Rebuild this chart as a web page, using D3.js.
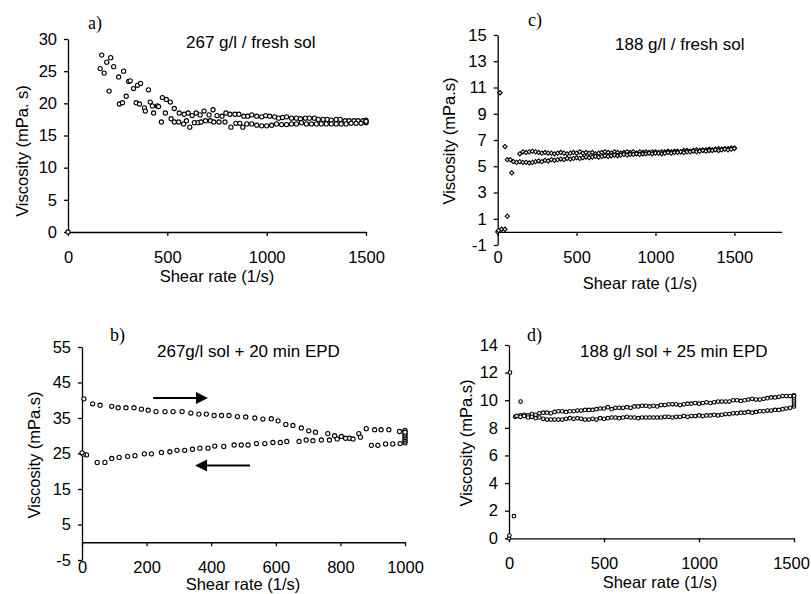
<!DOCTYPE html>
<html>
<head>
<meta charset="utf-8">
<script src="https://cdnjs.cloudflare.com/ajax/libs/d3/7.8.5/d3.min.js"></script>
<style>
  body { margin: 0; background: #fff; }
  svg text { font-family: "Liberation Sans", Arial, sans-serif; fill: #000; }
  .axis path, .axis line { stroke: #000; stroke-width: 1.3; }
  .axis text { font-size: 16.5px; }
  .plabel { font-family: "Liberation Serif", "Times New Roman", serif; font-size: 18px; }
</style>
</head>
<body>
<svg id="chart" width="811" height="594"></svg>
<script>
// panel a) 267 g/l fresh sol : [shear rate, viscosity]
const ptsAUp = [[170,27.5],[195,26.4],[215,27.1],[230,25.7],[255,24.1],[280,25.0],[305,23.4],[330,22.3],[350,22.8],[365,23.1],
  [405,22.1],[425,19.6],[450,19.6],[475,20.9],[495,20.6],[515,20.2],[535,19.2],[560,18.5],[585,18.3],[605,18.5],
  [625,18.1],[645,18.5],[665,18.2],[685,18.8],[710,18.2],[730,19.0],[750,18.1],[775,18.0],[795,18.5],[815,18.3],
  [840,18.3],[860,18.3],[885,18.0],[905,18.0],[925,18.2],[950,18.0],[975,17.9],[995,18.1],[1015,18.0],[1040,17.9],
  [1060,17.7],[1080,17.8],[1100,17.9],[1125,17.7],[1150,17.7],[1170,17.6],[1195,17.7],[1215,17.7],[1240,17.7],[1260,17.5],
  [1285,17.5],[1305,17.5],[1325,17.4],[1350,17.5],[1370,17.5],[1395,17.3],[1415,17.3],[1440,17.3],[1460,17.3],[1485,17.3],[1500,17.4]]
const ptsADown = [[0,0],[162,25.4],[182,24.7],[207,21.9],[259,19.9],[274,20.1],[293,21.1],[313,23.5],[343,20.1],[360,19.9],
  [385,19.3],[389,18.8],[414,20.2],[431,18.5],[456,19.5],[470,17.1],[490,18.5],[519,17.6],[535,17.1],[557,17.1],
  [582,16.8],[596,17.3],[613,16.3],[636,17.0],[655,17.0],[670,17.1],[692,17.3],[717,17.3],[734,17.1],[760,17.1],
  [790,17.1],[820,16.3],[845,16.9],[865,16.9],[880,16.3],[900,16.8],[925,16.8],[950,16.6],[975,16.5],[1000,16.5],
  [1025,16.6],[1050,16.8],[1075,16.7],[1100,16.7],[1125,16.8],[1150,16.8],[1175,17.0],[1200,16.8],[1225,16.8],[1250,16.8],
  [1275,16.8],[1300,16.8],[1325,16.8],[1350,16.8],[1375,16.8],[1400,16.8],[1425,16.9],[1450,16.9],[1475,16.9],[1500,17.0],
  [1500,17.1],[1500,17.2]]

// panel b) 267 g/l sol + 20 min EPD
const ptsBUp = [[6,40.4],[33,39.0],[56,38.6],[92,38.3],[112,37.9],[136,37.9],[161,37.9],[184,37.5],[205,37.2],[229,36.8],
  [257,36.8],[282,36.8],[310,36.8],[337,36.4],[362,36.1],[385,36.1],[409,35.7],[432,35.7],[455,35.7],[481,35.4],
  [507,35.3],[535,35.0],[560,34.7],[586,34.8],[607,34.2],[631,33.2],[653,32.9],[679,32.2],[702,31.4],[723,31.0],
  [761,30.6],[782,30.0],[803,29.8],[828,29.3],[857,30.6],[880,32.0],[906,31.7],[926,31.7],[950,31.7],[983,31.2],[1000,31.5]]
const ptsBDown = [[1000,28.0],[1000,28.5],[1000,29.0],[1000,29.5],[1000,30.0],[1000,30.5],[1000,31.0],[985,27.8],[962,27.7],[940,27.7],
  [916,27.3],[896,27.3],[862,29.6],[839,29.1],[816,29.3],[790,29.1],[766,28.8],[741,28.8],[715,28.6],[694,28.8],
  [672,28.4],[634,28.4],[614,28.1],[591,28.1],[566,27.8],[540,27.8],[514,27.4],[493,27.4],[471,27.4],[439,27.0],
  [411,27.1],[390,26.5],[365,26.5],[342,26.2],[318,25.9],[294,25.9],[272,25.5],[246,25.3],[215,24.9],[193,24.9],
  [164,24.4],[141,24.2],[115,23.9],[92,23.6],[71,22.5],[47,22.5],[14,24.6],[4,24.8],[0,25.2]]
const arrowsB = [{ from: [220, 40.6], to: [390, 40.6] }, { from: [520, 21.6], to: [350, 21.6] }]

// panel c) 188 g/l fresh sol
const ptsCStart = [[0,0],[5,0.1],[15,10.6],[25,0.2],[46,0.2],[46,6.5],[61,1.2],[61,5.5],[89,4.5]]
const ptsCUp = [[140,5.95],[160,6.1],[180,6.05],[200,6.1],[220,6.15],[240,6.1],[260,6.05],[280,6.0],[300,6.05],[320,6.0],
  [340,6.0],[360,5.95],[380,6.0],[400,6.05],[420,6.0],[440,5.95],[460,6.0],[480,6.05],[500,6.0],[520,6.1],
  [540,6.0],[560,6.05],[580,6.0],[600,6.05],[620,5.95],[640,6.0],[660,6.05],[680,6.1],[700,6.05],[720,6.0],
  [740,6.1],[760,6.05],[780,6.0],[800,6.05],[820,6.1],[840,6.05],[860,6.1],[880,6.0],[900,6.1],[920,6.05],
  [940,6.1],[960,6.05],[980,6.1],[1000,6.1],[1020,6.05],[1040,6.1],[1060,6.1],[1080,6.15],[1100,6.1],[1120,6.15],
  [1140,6.15],[1160,6.1],[1180,6.2],[1200,6.2],[1220,6.15],[1240,6.2],[1260,6.25],[1280,6.2],[1300,6.25],[1320,6.25],
  [1340,6.3],[1360,6.25],[1380,6.3],[1400,6.35],[1420,6.3],[1440,6.35],[1460,6.35],[1480,6.4],[1500,6.4]]
const ptsCDown = [[80,5.5],[100,5.35],[120,5.3],[140,5.35],[160,5.3],[180,5.3],[200,5.25],[220,5.3],[240,5.35],[260,5.4],
  [280,5.35],[300,5.45],[320,5.4],[340,5.5],[360,5.45],[380,5.5],[400,5.55],[420,5.5],[440,5.6],[460,5.55],
  [480,5.6],[500,5.65],[520,5.6],[540,5.65],[560,5.7],[580,5.65],[600,5.7],[620,5.75],[640,5.7],[660,5.75],
  [680,5.8],[700,5.75],[720,5.8],[740,5.85],[760,5.8],[780,5.85],[800,5.9],[820,5.85],[840,5.9],[860,5.9],
  [880,5.95],[900,5.9],[920,5.95],[940,5.95],[960,6.0],[980,5.95],[1000,6.0],[1020,6.0],[1040,5.95],[1060,6.0],
  [1080,6.05],[1100,6.0],[1120,6.05],[1140,6.05],[1160,6.1],[1180,6.05],[1200,6.1],[1220,6.1],[1240,6.15],[1260,6.1],
  [1280,6.15],[1300,6.2],[1320,6.15],[1340,6.2],[1360,6.2],[1380,6.25],[1400,6.2],[1420,6.25],[1440,6.3],[1460,6.25],
  [1480,6.3],[1500,6.35]]

// panel d) 188 g/l sol + 25 min EPD
const ptsDStart = [[0,0],[2,0.2],[5,12.0],[26,1.6],[61,9.9],[32,8.8]]
const ptsDUp = [[40,8.85],[60,8.9],[80,8.95],[100,8.9],[120,9.0],[140,8.95],[160,9.05],[180,9.1],[200,9.1],[220,9.05],
  [240,9.15],[260,9.2],[280,9.2],[300,9.15],[320,9.2],[340,9.2],[360,9.25],[380,9.25],[400,9.3],[420,9.3],
  [440,9.3],[460,9.35],[480,9.4],[500,9.4],[520,9.5],[540,9.35],[560,9.45],[580,9.45],[600,9.45],[620,9.5],
  [640,9.45],[660,9.55],[680,9.55],[700,9.6],[720,9.6],[740,9.55],[760,9.6],[780,9.55],[800,9.65],[820,9.65],
  [840,9.7],[860,9.7],[880,9.7],[900,9.65],[920,9.7],[940,9.75],[960,9.75],[980,9.8],[1000,9.75],[1020,9.8],
  [1040,9.85],[1060,9.8],[1080,9.85],[1100,9.9],[1120,9.9],[1140,9.9],[1160,9.9],[1180,10.0],[1200,10.0],[1220,9.95],
  [1240,10.0],[1260,10.05],[1280,10.1],[1300,10.05],[1320,10.05],[1340,10.1],[1360,10.15],[1380,10.2],[1400,10.2],[1420,10.25],
  [1440,10.3],[1460,10.3],[1480,10.3],[1500,10.35]]
const ptsDDown = [[40,8.85],[60,8.8],[80,8.85],[100,8.75],[120,8.8],[140,8.7],[160,8.75],[180,8.65],[200,8.6],[220,8.6],
  [240,8.6],[260,8.6],[280,8.6],[300,8.65],[320,8.7],[340,8.65],[360,8.7],[380,8.65],[400,8.6],[420,8.6],
  [440,8.65],[460,8.6],[480,8.7],[500,8.65],[520,8.7],[540,8.75],[560,8.75],[580,8.7],[600,8.75],[620,8.8],
  [640,8.75],[660,8.75],[680,8.7],[700,8.75],[720,8.75],[740,8.75],[760,8.75],[780,8.75],[800,8.75],[820,8.8],
  [840,8.8],[860,8.75],[880,8.8],[900,8.8],[920,8.85],[940,8.8],[960,8.85],[980,8.85],[1000,8.9],[1020,8.85],
  [1040,8.9],[1060,8.9],[1080,8.95],[1100,8.9],[1120,8.95],[1140,9.0],[1160,9.0],[1180,9.05],[1200,9.05],[1220,9.1],
  [1240,9.1],[1260,9.15],[1280,9.1],[1300,9.15],[1320,9.2],[1340,9.2],[1360,9.25],[1380,9.25],[1400,9.3],[1420,9.3],
  [1440,9.35],[1460,9.4],[1480,9.45],[1500,9.55],[1500,9.7],[1500,9.85],[1500,10.0],[1500,10.15],[1500,10.3]]

// tick values
const xTicksA = [0, 500, 1000, 1500], yTicksA = [0, 5, 10, 15, 20, 25, 30]
const xTicksB = [0, 200, 400, 600, 800, 1000], yTicksB = [-5, 5, 15, 25, 35, 45, 55]
const xTicksC = [0, 500, 1000, 1500], yTicksC = [-1, 1, 3, 5, 7, 9, 11, 13, 15]
const xTicksD = [0, 500, 1000, 1500], yTicksD = [0, 2, 4, 6, 8, 10, 12, 14]

const svg = d3.select("#chart")
const plain = d => String(d)   // "-5", "1500" as printed in the figure

const panels = [
  { tag: "a)", title: "267 g/l / fresh sol", ylab: "Viscosity (mPa. s)",
    xDom: [0, 1500], xRng: [68, 366], yDom: [0, 30], yRng: [232, 39],
    xTicks: xTicksA, yTicks: yTicksA, series: [ptsAUp, ptsADown], r: 2.1,
    tagPos: [88, 29], titlePos: [186, 48], ylabPos: [22, 151], xlabPos: [217, 282] },
  { tag: "c)", title: "188 g/l / fresh sol", ylab: "Viscosity (mPa.s)",
    xDom: [0, 1800], xRng: [497.7, 781.7], yDom: [-1, 15], yRng: [245, 35],
    xTicks: xTicksC, yTicks: yTicksC, series: [ptsCStart, ptsCUp, ptsCDown], diamond: true,
    tagPos: [528, 26], titlePos: [615, 50], ylabPos: [449, 141], xlabPos: [640, 289] },
  { tag: "b)", title: "267g/l sol + 20 min EPD", ylab: "Viscosity (mPa.s)",
    xDom: [0, 1000], xRng: [82, 405], yDom: [-5, 55], yRng: [560, 347],
    xTicks: xTicksB, yTicks: yTicksB, series: [ptsBUp, ptsBDown], r: 2.1, arrows: arrowsB,
    tagPos: [110, 341], titlePos: [157, 357], ylabPos: [34, 455], xlabPos: [243, 590] },
  { tag: "d)", title: "188 g/l sol + 25 min EPD", ylab: "Viscosity (mPa.s)",
    xDom: [0, 1500], xRng: [509, 794], yDom: [0, 14], yRng: [538.3, 345],
    xTicks: xTicksD, yTicks: yTicksD, series: [ptsDStart, ptsDUp, ptsDDown], r: 1.8, lastTickShift: -3,
    tagPos: [527, 341], titlePos: [580, 357], ylabPos: [466, 443], xlabPos: [660, 588] }
]

function drawPanel(p) {
  const x = d3.scaleLinear().domain(p.xDom).range(p.xRng)
  const y = d3.scaleLinear().domain(p.yDom).range(p.yRng)
  const g = svg.append("g")

  // x axis sits on viscosity = 0
  const xa = g.append("g").attr("class", "axis")
    .attr("transform", `translate(0,${y(0)})`)
    .call(d3.axisBottom(x).tickValues(p.xTicks).tickFormat(plain).tickSize(4).tickSizeOuter(0).tickPadding(15))
  if (p.lastTickShift) {
    // keep the last label inside the page edge
    xa.selectAll(".tick text").filter((d, i, n) => i === n.length - 1).attr("dx", p.lastTickShift)
  }
  g.append("g").attr("class", "axis")
    .attr("transform", `translate(${x(0)},0)`)
    .call(d3.axisLeft(y).tickValues(p.yTicks).tickFormat(plain).tickSize(4).tickSizeOuter(0).tickPadding(7))
  g.selectAll(".axis").attr("font-family", null).attr("font-size", null)

  const marks = g.append("g")
  p.series.forEach(s => {
    if (p.diamond) {
      marks.selectAll(null).data(s).enter().append("path")
        .attr("d", d3.symbol(d3.symbolSquare, 9))
        .attr("transform", d => `translate(${x(d[0])},${y(d[1])}) rotate(45)`)
        .attr("fill", "#fff").attr("stroke", "#000").attr("stroke-width", 1.1)
    } else {
      marks.selectAll(null).data(s).enter().append("circle")
        .attr("cx", d => x(d[0])).attr("cy", d => y(d[1])).attr("r", p.r)
        .attr("fill", "#fff").attr("stroke", "#000").attr("stroke-width", 1.1)
    }
  })

  if (p.arrows) {
    p.arrows.forEach(a => {
      const x1 = x(a.from[0]), x2 = x(a.to[0]), yy = y(a.from[1])
      const dir = Math.sign(x2 - x1), head = 12
      g.append("line").attr("x1", x1).attr("x2", x2 - dir * head).attr("y1", yy).attr("y2", yy)
        .attr("stroke", "#000").attr("stroke-width", 2)
      g.append("path")
        .attr("d", `M${x2},${yy} L${x2 - dir * head},${yy - 6} L${x2 - dir * head},${yy + 6} Z`)
        .attr("fill", "#000")
    })
  }

  g.append("text").attr("class", "plabel").attr("x", p.tagPos[0]).attr("y", p.tagPos[1]).text(p.tag)
  g.append("text").attr("x", p.titlePos[0]).attr("y", p.titlePos[1]).attr("font-size", 17).text(p.title)
  g.append("text").attr("transform", `translate(${p.ylabPos[0]},${p.ylabPos[1]}) rotate(-90)`)
    .attr("text-anchor", "middle").attr("dy", "0.35em").attr("font-size", 16.5).text(p.ylab)
  g.append("text").attr("x", p.xlabPos[0]).attr("y", p.xlabPos[1])
    .attr("text-anchor", "middle").attr("font-size", 16.5).text("Shear rate (1/s)")
}

panels.forEach(drawPanel)
</script>
</body>
</html>
